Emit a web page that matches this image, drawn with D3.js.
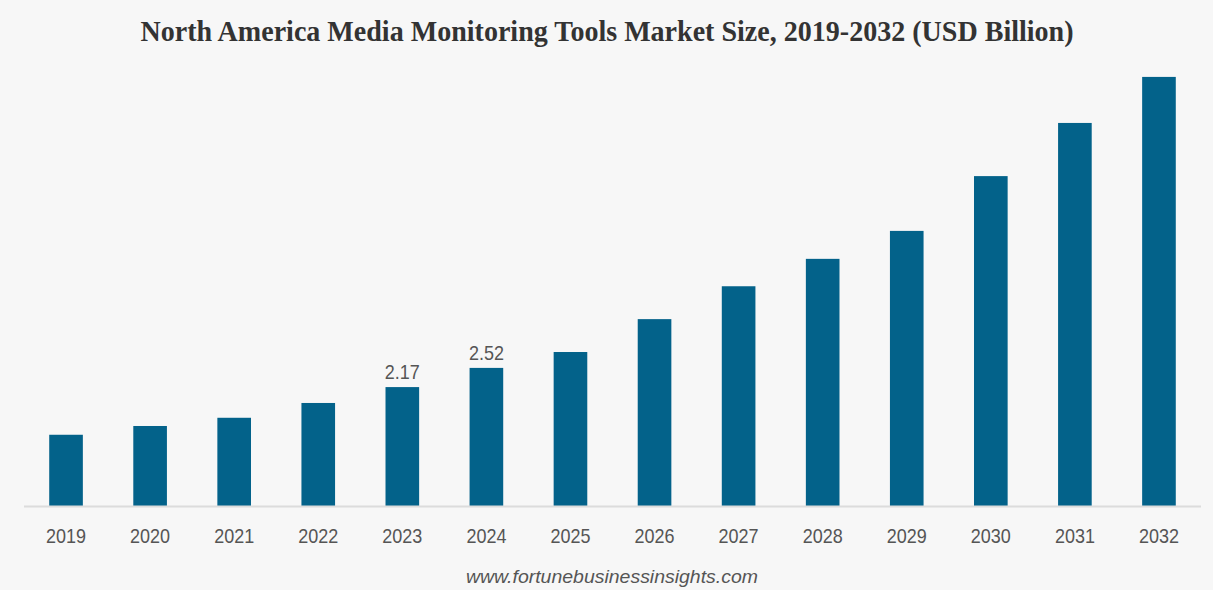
<!DOCTYPE html>
<html lang="en">
<head>
<meta charset="UTF-8">
<title>North America Media Monitoring Tools Market Size</title>
<script src="https://d3js.org/d3.v7.min.js"></script>
<style>
  html, body { margin: 0; padding: 0; background: #f7f7f7; }
  svg { display: block; }
</style>
</head>
<body>
<svg width="1213" height="590"></svg>
<script>
// data (USD Billion)
const years = ["2019","2020","2021","2022","2023","2024","2025","2026","2027","2028","2029","2030","2031","2032"];
const values = [1.30, 1.46, 1.61, 1.88, 2.17, 2.52, 2.81, 3.41, 4.01, 4.51, 5.02, 6.02, 6.99, 7.83];
const labelled = ["2023", "2024"];

const svg = d3.select("svg");
const W = 1213, H = 590;

svg.append("rect").attr("width", W).attr("height", H).attr("fill", "#f7f7f7");

const x = d3.scaleBand().domain(years).range([24, 1201]).paddingInner(0.6).paddingOuter(0.3);
const y = d3.scaleLinear().domain([0, 8]).range([506, 67.6]);

// title (condensed serif look)
svg.append("text")
  .attr("x", 607).attr("y", 41)
  .attr("text-anchor", "middle")
  .attr("font-family", "'Liberation Serif', 'Times New Roman', serif")
  .attr("font-weight", "bold")
  .attr("font-size", 29)
  .attr("textLength", 933)
  .attr("lengthAdjust", "spacingAndGlyphs")
  .attr("fill", "#333")
  .text("North America Media Monitoring Tools Market Size, 2019-2032 (USD Billion)");

// bars
svg.selectAll("rect.bar")
  .data(years).enter().append("rect")
  .attr("class", "bar")
  .attr("x", d => x(d))
  .attr("width", x.bandwidth())
  .attr("y", (d, i) => y(values[i]))
  .attr("height", (d, i) => y(0) - y(values[i]))
  .attr("fill", "#03628a");

// baseline
svg.append("line")
  .attr("x1", 24).attr("x2", 1201)
  .attr("y1", y(0) + 0.5).attr("y2", y(0) + 0.5)
  .attr("stroke", "#dcdcdc").attr("stroke-width", 2);

// x axis labels
const xAxis = svg.append("g")
  .attr("transform", `translate(0,${y(0)})`)
  .call(d3.axisBottom(x).tickSize(0).tickPadding(22));
xAxis.select(".domain").remove();
xAxis.selectAll("text")
  .attr("dy", 0)
  .attr("y", 37)
  .attr("font-family", "'Liberation Sans', Arial, sans-serif")
  .attr("font-size", 21)
  .attr("textLength", 40)
  .attr("lengthAdjust", "spacingAndGlyphs")
  .attr("fill", "#555");

// value labels
svg.selectAll("text.val")
  .data(years.filter(d => labelled.includes(d))).enter().append("text")
  .attr("class", "val")
  .attr("x", d => x(d) + x.bandwidth() / 2)
  .attr("y", d => y(values[years.indexOf(d)]) - 8)
  .attr("text-anchor", "middle")
  .attr("font-family", "'Liberation Sans', Arial, sans-serif")
  .attr("font-size", 21)
  .attr("textLength", 35)
  .attr("lengthAdjust", "spacingAndGlyphs")
  .attr("fill", "#555")
  .text(d => values[years.indexOf(d)].toFixed(2));

// footer
svg.append("text")
  .attr("x", 612).attr("y", 583)
  .attr("text-anchor", "middle")
  .attr("font-family", "'Liberation Sans', Arial, sans-serif")
  .attr("font-style", "italic")
  .attr("font-size", 19)
  .attr("textLength", 292)
  .attr("lengthAdjust", "spacingAndGlyphs")
  .attr("fill", "#555")
  .text("www.fortunebusinessinsights.com");
</script>
</body>
</html>
